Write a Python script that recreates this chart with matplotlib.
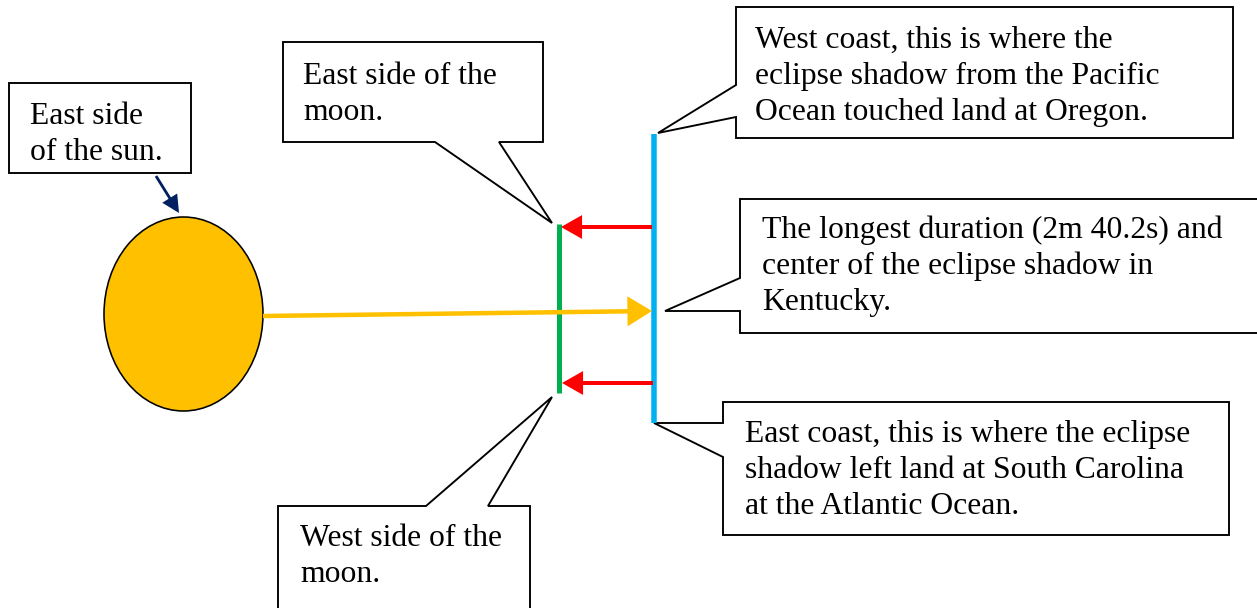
import matplotlib
matplotlib.use("Agg")
import matplotlib.pyplot as plt
from matplotlib.patches import Polygon, Ellipse

# ---- diagram content (pixel coordinates, y downward) ----
sun_center = (183.5, 314)
sun_size = (159, 194)

green_line = [(558.5, 224), (558.5, 393)]   # moon
blue_line = [(654, 134), (654, 423)]        # shadow path on earth

yellow_arrow = [(263, 316), (652, 311)]
red_arrows = [[(652, 227), (561, 227)], [(653, 383), (562, 383)]]
navy_arrow = [(156, 176), (179, 213)]

box_sun = [(9, 83), (191, 83), (191, 173), (9, 173)]
box_east_moon = [(283, 42), (543, 42), (543, 142), (499, 142), (552, 223), (435, 142), (283, 142)]
box_west_moon = [(278, 506), (426, 506), (552, 397), (488, 506), (530, 506), (530, 640), (278, 640)]
box_west_coast = [(736, 7), (1233, 7), (1233, 138), (736, 138), (736, 117), (658, 133), (736, 85)]
box_center = [(740, 199), (1290, 199), (1290, 333), (740, 333), (740, 311), (665, 311), (740, 278)]
box_east_coast = [(723, 402), (1229, 402), (1229, 535), (723, 535), (723, 457), (654, 423), (723, 423)]

texts_sun = ["East side", "of the sun."]
texts_east_moon = ["East side of the", "moon."]
texts_west_moon = ["West side of the", "moon."]
texts_west_coast = ["West coast, this is where the",
                    "eclipse shadow from the Pacific",
                    "Ocean touched land at Oregon."]
texts_center = ["The longest duration (2m 40.2s) and",
                "center of the eclipse shadow in",
                "Kentucky."]
texts_east_coast = ["East coast, this is where the eclipse",
                    "shadow left land at South Carolina",
                    "at the Atlantic Ocean."]

# text anchor (x, first baseline)
text_blocks = [
    (texts_sun, 30, 124),
    (texts_east_moon, 303, 84),
    (texts_west_moon, 300, 546),
    (texts_west_coast, 755, 48),
    (texts_center, 762, 238),
    (texts_east_coast, 745, 442),
]
line_step = 36

W, H = 1257, 608
fig = plt.figure(figsize=(W / 100, H / 100), dpi=100)
ax = fig.add_axes([0, 0, 1, 1])
ax.set_xlim(0, W)
ax.set_ylim(H, 0)
ax.axis("off")

px = 0.72  # points per pixel

# callout boxes
for poly in [box_sun, box_east_moon, box_west_moon, box_west_coast, box_center, box_east_coast]:
    ax.add_patch(Polygon(poly, closed=True, facecolor="white", edgecolor="black",
                         linewidth=1.9 * px, joinstyle="miter", zorder=2))

# sun
ax.add_patch(Ellipse(sun_center, sun_size[0], sun_size[1], facecolor="#FFC000",
                     edgecolor="black", linewidth=1.6 * px, zorder=3))

# moon and shadow lines
ax.plot([p[0] for p in green_line], [p[1] for p in green_line], color="#00B050",
        linewidth=5 * px, solid_capstyle="butt", zorder=4)
ax.plot([p[0] for p in blue_line], [p[1] for p in blue_line], color="#00B0F0",
        linewidth=5.5 * px, solid_capstyle="butt", zorder=4)


def arrow(seg, color, lw, hl, hw):
    ax.annotate("", xy=seg[1], xytext=seg[0],
                arrowprops=dict(arrowstyle=f"-|>,head_length={hl * px},head_width={hw * px}",
                                color=color, linewidth=lw * px, shrinkA=0, shrinkB=0,
                                mutation_scale=1, capstyle="butt", joinstyle="miter"),
                zorder=5)


arrow(yellow_arrow, "#FFC000", 4.5, 18, 11)
for seg in red_arrows:
    arrow(seg, "#FF0000", 4, 15, 8.5)
arrow(navy_arrow, "#002060", 2.8, 13, 6.5)

# texts
for lines, x0, y0 in text_blocks:
    for i, t in enumerate(lines):
        ax.text(x0, y0 + i * line_step, t, fontfamily="Liberation Serif", fontsize=22.8,
                color="black", ha="left", va="baseline", zorder=6)

fig.savefig("out.png", dpi=100)
